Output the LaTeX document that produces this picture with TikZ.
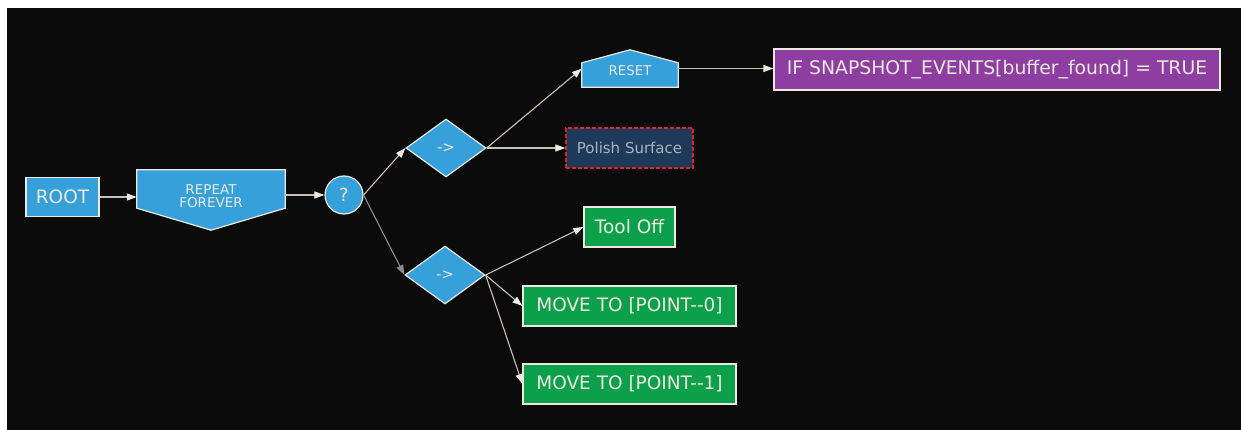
\documentclass[tikz,border=0pt]{standalone}
\usepackage{fontspec}
\setmainfont{DejaVu Sans}
\usetikzlibrary{arrows.meta,shapes.geometric}
\definecolor{BG}{RGB}{10, 11, 10}
\definecolor{BL}{RGB}{53, 160, 218}
\definecolor{GR}{RGB}{12, 160, 74}
\definecolor{PU}{RGB}{142, 62, 160}
\definecolor{NV}{RGB}{30, 58, 90}
\definecolor{RD}{RGB}{225, 35, 35}
\definecolor{PT}{RGB}{170, 178, 186}
\definecolor{W}{RGB}{236, 232, 226}
\definecolor{E}{RGB}{205, 190, 184}
\definecolor{EG}{RGB}{140, 140, 140}

\tikzset{
  box/.style={draw=W, line width=1.2pt, inner sep=0pt, text=W},
  flat/.style={inner sep=0pt, text=W, align=center},
  link/.style={E, line width=1.1pt, -{Triangle[length=10pt, width=7pt, color=W]}}
}

\begin{document}
\begin{tikzpicture}[x=1pt, y=-1pt]
  \useasboundingbox (0,0) rectangle (1241,430);
  \fill[white] (0,0) rectangle (1241,430);
  \fill[BG] (7,8) rectangle (1241,430);

  \node[box, fill=BL, minimum width=73pt, minimum height=39pt, font=\fontsize{18.5}{20}\selectfont] (root) at (62.5,197) {ROOT};

  \node[flat, minimum width=148pt, minimum height=60pt] (rep) at (211,200) {};
  \fill[BL, draw=W, line width=1.2pt] (rep.north west) -- (rep.north east) -- ([yshift=22pt]rep.south east)
    -- (rep.south) -- ([yshift=22pt]rep.south west) -- cycle;
  \node[flat, font=\fontsize{13.5}{13.5}\selectfont] at (211,196) {REPEAT\\FOREVER};

  \node[box, fill=BL, circle, minimum size=38pt, font=\fontsize{18}{20}\selectfont] (q) at (344,195) {?};

  \node[box, fill=BL, diamond, minimum width=80pt, minimum height=58pt, font=\fontsize{15}{16}\selectfont] (d1) at (446,148) {->};
  \node[box, fill=BL, diamond, minimum width=80pt, minimum height=58pt, font=\fontsize{15}{16}\selectfont] (d2) at (445,275) {->};

  \node[flat, minimum width=96pt, minimum height=37pt] (reset) at (630,68.5) {};
  \fill[BL, draw=W, line width=1.2pt] (reset.south west) -- (reset.south east) -- ([yshift=-13pt]reset.north east)
    -- (reset.north) -- ([yshift=-13pt]reset.north west) -- cycle;
  \node[flat, font=\fontsize{13.4}{14}\selectfont] at (630,71) {RESET};

  \node[fill=NV, draw=RD, line width=1.3pt, dash pattern=on 4pt off 2pt, inner sep=0pt, text=PT, minimum width=127pt, minimum height=40pt, font=\fontsize{15}{16}\selectfont] (polish) at (629.5,148) {Polish Surface};

  \node[box, fill=PU, minimum width=446pt, minimum height=41pt, font=\fontsize{18.8}{20}\selectfont] (iff) at (997,69.5) {IF SNAPSHOT\_EVENTS[buffer\_found] = TRUE};

  \node[box, fill=GR, minimum width=91pt, minimum height=40pt, font=\fontsize{18.5}{20}\selectfont] (tool) at (629.5,227) {Tool Off};
  \node[box, fill=GR, minimum width=213pt, minimum height=40pt, font=\fontsize{18.5}{20}\selectfont] (mv0) at (629.5,306) {MOVE TO [POINT-{}-0]};
  \node[box, fill=GR, minimum width=213pt, minimum height=40pt, font=\fontsize{18.5}{20}\selectfont] (mv1) at (629.5,384) {MOVE TO [POINT-{}-1]};

  \draw[link] (root.east) -- (root.east -| rep.west);
  \draw[link] (rep.east |- q.west) -- (q.west);
  \draw[link] (q.east) -- (d1.west);
  \draw[link, EG, -{Triangle[length=10pt, width=7pt, color=EG]}] (q.east) -- (d2.west);
  \draw[link] (d1.east) -- (reset.west);
  \draw[link] (d1.east) -- (polish.west);
  \draw[link] (reset.east) -- (reset.east -| iff.west);
  \draw[link] (d2.east) -- (tool.west);
  \draw[link] (d2.east) -- (mv0.west);
  \draw[link] (d2.east) -- (mv1.west);
\end{tikzpicture}
\end{document}
